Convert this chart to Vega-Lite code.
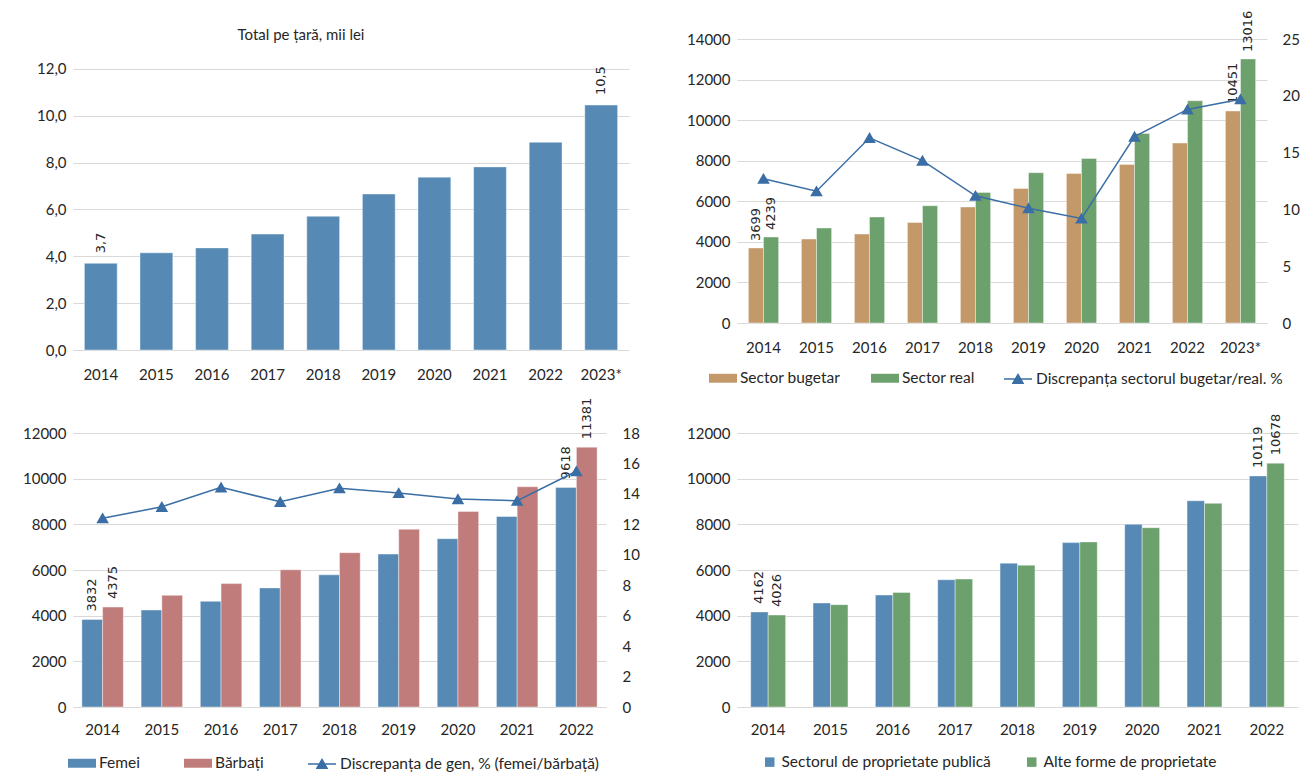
{
  "$schema": "https://vega.github.io/schema/vega-lite/v6.json",
  "background": "white",
  "padding": {"left": 22, "top": 10, "right": 0, "bottom": 0},
  "datasets": {
    "total": [
      {"an": "2014", "valoare": 3.7},
      {"an": "2015", "valoare": 4.15},
      {"an": "2016", "valoare": 4.36},
      {"an": "2017", "valoare": 4.95},
      {"an": "2018", "valoare": 5.71},
      {"an": "2019", "valoare": 6.66},
      {"an": "2020", "valoare": 7.38},
      {"an": "2021", "valoare": 7.82},
      {"an": "2022", "valoare": 8.87},
      {"an": "2023*", "valoare": 10.46}
    ],
    "buget": [
      {"an": "2014", "serie": "Sector bugetar", "valoare": 3699},
      {"an": "2014", "serie": "Sector real", "valoare": 4239},
      {"an": "2015", "serie": "Sector bugetar", "valoare": 4140},
      {"an": "2015", "serie": "Sector real", "valoare": 4682},
      {"an": "2016", "serie": "Sector bugetar", "valoare": 4386},
      {"an": "2016", "serie": "Sector real", "valoare": 5224},
      {"an": "2017", "serie": "Sector bugetar", "valoare": 4958},
      {"an": "2017", "serie": "Sector real", "valoare": 5781},
      {"an": "2018", "serie": "Sector bugetar", "valoare": 5717},
      {"an": "2018", "serie": "Sector real", "valoare": 6437},
      {"an": "2019", "serie": "Sector bugetar", "valoare": 6634},
      {"an": "2019", "serie": "Sector real", "valoare": 7408},
      {"an": "2020", "serie": "Sector bugetar", "valoare": 7373},
      {"an": "2020", "serie": "Sector real", "valoare": 8112},
      {"an": "2021", "serie": "Sector bugetar", "valoare": 7817},
      {"an": "2021", "serie": "Sector real", "valoare": 9345},
      {"an": "2022", "serie": "Sector bugetar", "valoare": 8871},
      {"an": "2022", "serie": "Sector real", "valoare": 10956},
      {"an": "2023*", "serie": "Sector bugetar", "valoare": 10451},
      {"an": "2023*", "serie": "Sector real", "valoare": 13016}
    ],
    "disc1": [
      {"an": "2014", "disc": 12.7},
      {"an": "2015", "disc": 11.6},
      {"an": "2016", "disc": 16.3},
      {"an": "2017", "disc": 14.3},
      {"an": "2018", "disc": 11.2},
      {"an": "2019", "disc": 10.1},
      {"an": "2020", "disc": 9.2},
      {"an": "2021", "disc": 16.4},
      {"an": "2022", "disc": 18.8},
      {"an": "2023*", "disc": 19.7}
    ],
    "gen": [
      {"an": "2014", "serie": "Femei", "valoare": 3832},
      {"an": "2014", "serie": "Bărbați", "valoare": 4375},
      {"an": "2015", "serie": "Femei", "valoare": 4247},
      {"an": "2015", "serie": "Bărbați", "valoare": 4890},
      {"an": "2016", "serie": "Femei", "valoare": 4626},
      {"an": "2016", "serie": "Bărbați", "valoare": 5405},
      {"an": "2017", "serie": "Femei", "valoare": 5216},
      {"an": "2017", "serie": "Bărbați", "valoare": 6009},
      {"an": "2018", "serie": "Femei", "valoare": 5789},
      {"an": "2018", "serie": "Bărbați", "valoare": 6758},
      {"an": "2019", "serie": "Femei", "valoare": 6696},
      {"an": "2019", "serie": "Bărbați", "valoare": 7784},
      {"an": "2020", "serie": "Femei", "valoare": 7374},
      {"an": "2020", "serie": "Bărbați", "valoare": 8564},
      {"an": "2021", "serie": "Femei", "valoare": 8344},
      {"an": "2021", "serie": "Bărbați", "valoare": 9648},
      {"an": "2022", "serie": "Femei", "valoare": 9618},
      {"an": "2022", "serie": "Bărbați", "valoare": 11381}
    ],
    "disc2": [
      {"an": "2014", "disc": 12.4},
      {"an": "2015", "disc": 13.15},
      {"an": "2016", "disc": 14.43},
      {"an": "2017", "disc": 13.48},
      {"an": "2018", "disc": 14.37},
      {"an": "2019", "disc": 14.06},
      {"an": "2020", "disc": 13.66},
      {"an": "2021", "disc": 13.55},
      {"an": "2022", "disc": 15.49}
    ],
    "prop": [
      {"an": "2014", "serie": "Sectorul de proprietate publică", "valoare": 4162},
      {"an": "2014", "serie": "Alte forme de proprietate", "valoare": 4026},
      {"an": "2015", "serie": "Sectorul de proprietate publică", "valoare": 4555},
      {"an": "2015", "serie": "Alte forme de proprietate", "valoare": 4481},
      {"an": "2016", "serie": "Sectorul de proprietate publică", "valoare": 4904},
      {"an": "2016", "serie": "Alte forme de proprietate", "valoare": 5018},
      {"an": "2017", "serie": "Sectorul de proprietate publică", "valoare": 5572},
      {"an": "2017", "serie": "Alte forme de proprietate", "valoare": 5602},
      {"an": "2018", "serie": "Sectorul de proprietate publică", "valoare": 6300},
      {"an": "2018", "serie": "Alte forme de proprietate", "valoare": 6213},
      {"an": "2019", "serie": "Sectorul de proprietate publică", "valoare": 7199},
      {"an": "2019", "serie": "Alte forme de proprietate", "valoare": 7229},
      {"an": "2020", "serie": "Sectorul de proprietate publică", "valoare": 8001},
      {"an": "2020", "serie": "Alte forme de proprietate", "valoare": 7853},
      {"an": "2021", "serie": "Sectorul de proprietate publică", "valoare": 9031},
      {"an": "2021", "serie": "Alte forme de proprietate", "valoare": 8918},
      {"an": "2022", "serie": "Sectorul de proprietate publică", "valoare": 10119},
      {"an": "2022", "serie": "Alte forme de proprietate", "valoare": 10678}
    ]
  },
  "columns": 2,
  "spacing": {"row": 83, "column": 103},
  "bounds": "flush",
  "align": "all",
  "resolve": {"scale": {"color": "independent", "fill": "independent", "xOffset": "independent"}, "legend": {"color": "independent", "fill": "independent"}},
  "concat": [
    {
      "width": 556,
      "height": 311,
      "data": {"name": "total"},
      "title": {"text": "Total pe țară, mii lei", "font": "Lato", "fontSize": 15, "fontWeight": "normal", "color": "#262626", "anchor": "middle", "dx": -50, "offset": -4, "frame": "group"},
      "encoding": {
        "x": {"field": "an", "type": "ordinal", "title": null, "scale": {"paddingInner": 0.41, "paddingOuter": 0.205}, "axis": {"labelPadding": 17}},
        "y": {"field": "valoare", "type": "quantitative", "title": null, "scale": {"domain": [0, 13.281], "nice": false}, "axis": {"values": [0, 2, 4, 6, 8, 10, 12], "format": ".1f"}}
      },
      "layer": [
        {"mark": {"type": "bar", "color": "#568ab5", "stroke": "#ffffff", "strokeOpacity": 0.4, "strokeWidth": 1}},
        {
          "transform": [{"filter": {"field": "an", "oneOf": ["2014", "2023*"]}}],
          "mark": {"type": "text", "angle": 270, "align": "left", "baseline": "middle", "dx": 10, "font": "DejaVu Sans", "fontSize": 13, "color": "#262626"},
          "encoding": {"text": {"field": "valoare", "type": "quantitative", "format": ".1f"}}
        }
      ]
    },
    {
      "width": 530,
      "height": 284,
      "layer": [
        {
          "data": {"name": "buget"},
          "encoding": {
            "x": {"field": "an", "type": "ordinal", "title": null, "scale": {"paddingInner": 0.43, "paddingOuter": 0.215}, "axis": {"labelPadding": 17}},
            "xOffset": {"field": "serie", "type": "nominal", "scale": {"domain": ["Sector bugetar", "Sector real"], "paddingInner": 0, "paddingOuter": 0}},
            "y": {"field": "valoare", "type": "quantitative", "title": null, "scale": {"domain": [0, 14000], "nice": false}, "axis": {"values": [0, 2000, 4000, 6000, 8000, 10000, 12000, 14000], "format": "d"}}
          },
          "layer": [
            {
              "mark": {"type": "bar", "stroke": "#ffffff", "strokeOpacity": 0.4, "strokeWidth": 1},
              "encoding": {
                "color": {
                  "field": "serie", "type": "nominal",
                  "scale": {"domain": ["Sector bugetar", "Sector real"], "range": ["#c4996a", "#6ca06c"]},
                  "legend": {
                    "orient": "none", "legendX": -28, "legendY": 325, "direction": "horizontal", "title": null,
                    "labelFont": "Lato", "labelFontSize": 15.5, "labelColor": "#262626", "labelOffset": 3, "labelLimit": 400,
                    "columnPadding": 30, "symbolSize": 784, "symbolType": "M-1,-0.32H1V0.32H-1Z", "symbolStrokeWidth": 0
                  }
                }
              }
            },
            {
              "transform": [{"filter": {"field": "an", "oneOf": ["2014", "2023*"]}}],
              "mark": {"type": "text", "angle": 270, "align": "left", "baseline": "middle", "dx": 7, "font": "DejaVu Sans", "fontSize": 13, "color": "#262626"},
              "encoding": {"text": {"field": "valoare", "type": "quantitative", "format": "d"}}
            }
          ]
        },
        {
          "data": {"name": "disc1"},
          "encoding": {
            "x": {"field": "an", "type": "ordinal", "title": null},
            "y": {"field": "disc", "type": "quantitative", "title": null, "scale": {"domain": [0, 25], "nice": false}, "axis": {"orient": "right", "values": [0, 5, 10, 15, 20, 25], "format": "d", "grid": false, "labelPadding": 15}}
          },
          "layer": [
            {"mark": {"type": "line", "color": "#3a6ea5", "strokeWidth": 1.5}},
            {
              "mark": {"type": "point", "shape": "triangle-up", "filled": true, "size": 100, "stroke": "#3a6ea5", "strokeWidth": 1.5, "opacity": 1},
              "encoding": {
                "fill": {
                  "datum": "Discrepanța sectorul bugetar/real. %", "type": "nominal",
                  "scale": {"range": ["#3a6ea5"]},
                  "legend": {
                    "orient": "none", "legendX": 266, "legendY": 325, "title": null,
                    "labelFont": "Lato", "labelFontSize": 15.5, "labelColor": "#262626", "labelOffset": 3, "labelLimit": 400,
                    "symbolSize": 784, "symbolType": "M-1,0H1M-0.36,0.3L0,-0.32L0.36,0.3Z", "symbolStrokeColor": "#3a6ea5", "symbolStrokeWidth": 1.5
                  }
                }
              }
            }
          ]
        }
      ],
      "resolve": {"scale": {"y": "independent"}}
    },
    {
      "width": 533,
      "height": 274,
      "layer": [
        {
          "data": {"name": "gen"},
          "encoding": {
            "x": {"field": "an", "type": "ordinal", "title": null, "scale": {"paddingInner": 0.3, "paddingOuter": 0.15}, "axis": {"labelPadding": 15}},
            "xOffset": {"field": "serie", "type": "nominal", "scale": {"domain": ["Femei", "Bărbați"], "paddingInner": 0, "paddingOuter": 0}},
            "y": {"field": "valoare", "type": "quantitative", "title": null, "scale": {"domain": [0, 12000], "nice": false}, "axis": {"values": [0, 2000, 4000, 6000, 8000, 10000, 12000], "format": "d"}}
          },
          "layer": [
            {
              "mark": {"type": "bar", "stroke": "#ffffff", "strokeOpacity": 0.4, "strokeWidth": 1},
              "encoding": {
                "color": {
                  "field": "serie", "type": "nominal",
                  "scale": {"domain": ["Femei", "Bărbați"], "range": ["#568ab5", "#c07c7b"]},
                  "legend": {
                    "orient": "none", "legendX": -5, "legendY": 316, "direction": "horizontal", "title": null,
                    "labelFont": "Lato", "labelFontSize": 15.5, "labelColor": "#262626", "labelOffset": 3, "labelLimit": 400,
                    "columnPadding": 44, "symbolSize": 784, "symbolType": "M-1,-0.32H1V0.32H-1Z", "symbolStrokeWidth": 0
                  }
                }
              }
            },
            {
              "transform": [{"filter": {"field": "an", "oneOf": ["2014", "2022"]}}],
              "mark": {"type": "text", "angle": 270, "align": "left", "baseline": "middle", "dx": 8, "font": "DejaVu Sans", "fontSize": 13, "color": "#262626"},
              "encoding": {"text": {"field": "valoare", "type": "quantitative", "format": "d"}}
            }
          ]
        },
        {
          "data": {"name": "disc2"},
          "encoding": {
            "x": {"field": "an", "type": "ordinal", "title": null},
            "y": {"field": "disc", "type": "quantitative", "title": null, "scale": {"domain": [0, 18], "nice": false}, "axis": {"orient": "right", "values": [0, 2, 4, 6, 8, 10, 12, 14, 16, 18], "format": "d", "grid": false, "labelPadding": 16}}
          },
          "layer": [
            {"mark": {"type": "line", "color": "#3a6ea5", "strokeWidth": 1.5}},
            {
              "mark": {"type": "point", "shape": "triangle-up", "filled": true, "size": 100, "stroke": "#3a6ea5", "strokeWidth": 1.5, "opacity": 1},
              "encoding": {
                "fill": {
                  "datum": "Discrepanța de gen, % (femei/bărbață)", "type": "nominal",
                  "scale": {"range": ["#3a6ea5"]},
                  "legend": {
                    "orient": "none", "legendX": 234, "legendY": 316, "title": null,
                    "labelFont": "Lato", "labelFontSize": 15.5, "labelColor": "#262626", "labelOffset": 3, "labelLimit": 400,
                    "symbolSize": 784, "symbolType": "M-1,0H1M-0.36,0.3L0,-0.32L0.36,0.3Z", "symbolStrokeColor": "#3a6ea5", "symbolStrokeWidth": 1.5
                  }
                }
              }
            }
          ]
        }
      ],
      "resolve": {"scale": {"y": "independent"}}
    },
    {
      "width": 561,
      "height": 274,
      "data": {"name": "prop"},
      "encoding": {
        "x": {"field": "an", "type": "ordinal", "title": null, "scale": {"paddingInner": 0.44, "paddingOuter": 0.22}, "axis": {"labelPadding": 15}},
        "xOffset": {"field": "serie", "type": "nominal", "scale": {"domain": ["Sectorul de proprietate publică", "Alte forme de proprietate"], "paddingInner": 0, "paddingOuter": 0}},
        "y": {"field": "valoare", "type": "quantitative", "title": null, "scale": {"domain": [0, 12000], "nice": false}, "axis": {"values": [0, 2000, 4000, 6000, 8000, 10000, 12000], "format": "d"}}
      },
      "layer": [
        {
          "mark": {"type": "bar", "stroke": "#ffffff", "strokeOpacity": 0.4, "strokeWidth": 1},
          "encoding": {
            "color": {
              "field": "serie", "type": "nominal",
              "scale": {"domain": ["Sectorul de proprietate publică", "Alte forme de proprietate"], "range": ["#568ab5", "#6ca06c"]},
              "legend": {
                "orient": "none", "legendX": 25, "legendY": 321, "direction": "horizontal", "title": null,
                "labelFont": "Lato", "labelFontSize": 15.5, "labelColor": "#262626", "labelOffset": 4, "labelLimit": 400,
                "columnPadding": 33, "symbolType": "square", "symbolSize": 90, "symbolStrokeWidth": 0
              }
            }
          }
        },
        {
          "transform": [{"filter": {"field": "an", "oneOf": ["2014", "2022"]}}],
          "mark": {"type": "text", "angle": 270, "align": "left", "baseline": "middle", "dx": 8, "font": "DejaVu Sans", "fontSize": 13, "color": "#262626"},
          "encoding": {"text": {"field": "valoare", "type": "quantitative", "format": "d"}}
        }
      ]
    }
  ],
  "config": {
    "view": {"stroke": null},
    "font": "Lato",
    "axis": {"labelFont": "Lato", "labelFontSize": 15, "labelColor": "#262626", "domain": false, "ticks": false, "gridColor": "#d9d9d9", "gridWidth": 1, "labelPadding": 7},
    "axisX": {"domain": true, "domainColor": "#d9d9d9", "grid": false, "labelAngle": 0},
    "axisY": {"grid": true},
    "locale": {"number": {"decimal": ",", "thousands": " ", "grouping": [3], "currency": ["", ""]}}
  }
}
